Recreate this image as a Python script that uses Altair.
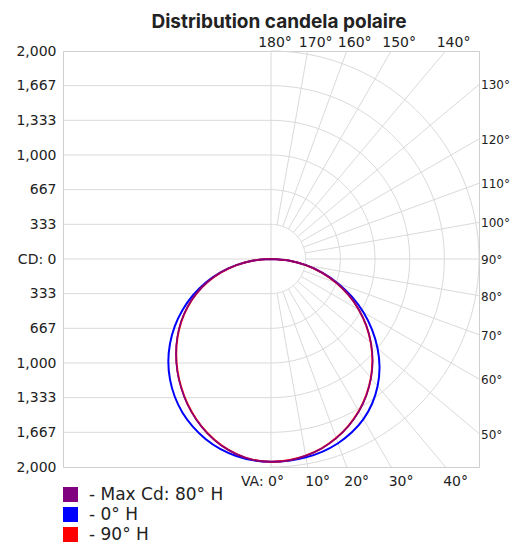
import altair as alt
import pandas as pd
import numpy as np

title_text = "Distribution candela polaire"

# vertical angles (deg from nadir) at which candela values were read
angles = [0, 5, 10, 15, 20, 25, 30, 35, 40, 45, 50, 55, 60, 65, 70, 75, 80, 85, 90]

series_names = ["- Max Cd: 80° H", "- 0° H", "- 90° H"]
series_colors = ["#800080", "#0000ff", "#ff0000"]

# candela values, right half / left half of each plane
max80_right = [1950, 1944, 1921, 1886, 1834, 1770, 1692, 1600, 1496, 1382, 1255, 1120, 977, 826, 668, 506, 340, 170, 0]
max80_left = [1950, 1940, 1906, 1855, 1786, 1703, 1610, 1508, 1403, 1292, 1177, 1057, 930, 795, 651, 498, 337, 170, 0]
h0_right = [1950, 1947, 1936, 1917, 1885, 1839, 1778, 1696, 1595, 1476, 1338, 1187, 1026, 858, 686, 514, 342, 170, 0]
h0_left = [1950, 1943, 1923, 1890, 1841, 1779, 1704, 1614, 1511, 1396, 1268, 1130, 984, 830, 670, 507, 339, 170, 0]
h90_right = [1950, 1943, 1920, 1884, 1832, 1767, 1689, 1597, 1494, 1379, 1253, 1118, 975, 824, 667, 505, 339, 170, 0]
h90_left = [1950, 1939, 1905, 1853, 1783, 1700, 1607, 1505, 1400, 1289, 1174, 1054, 927, 793, 649, 497, 336, 170, 0]

top_labels = [180, 170, 160, 150, 140]
right_labels = [130, 120, 110, 100, 90, 80, 70, 60, 50]
bottom_labels = [10, 20, 30, 40]
bottom_first = [0]

CD_MAX = 2000
N_STEPS = 6
cd_step = CD_MAX / N_STEPS
cd_ticks = [cd_step * k for k in range(-N_STEPS, N_STEPS + 1)]

FONT = "DejaVu Sans"
TXT = "#222222"
GRID = "#dadada"

# ---------- data tables ----------
rows = []
for name, right, left in [
    (series_names[0], max80_right, max80_left),
    (series_names[1], h0_right, h0_left),
    (series_names[2], h90_right, h90_left),
]:
    for a, v in zip(angles, right):
        rows.append({"series": name, "angle": a, "side": 1, "cd": v, "ord": a})
    for a, v in zip(angles, left):
        if a == 0:
            continue
        rows.append({"series": name, "angle": a, "side": -1, "cd": v, "ord": -a})
curves = pd.DataFrame(rows)

# polar grid: rings on the right half
ring_rows = []
for k in range(1, N_STEPS + 1):
    r = cd_step * k
    for a in range(0, 181, 2):
        ring_rows.append({"r": r, "a": a,
                          "x": r * np.sin(np.radians(a)),
                          "y": -r * np.cos(np.radians(a))})
rings = pd.DataFrame(ring_rows)

# rays every 10 deg, from first ring to the frame
ray_rows = []
for a in range(10, 180, 10):
    s, c = np.sin(np.radians(a)), np.cos(np.radians(a))
    r_end = CD_MAX / max(abs(s), abs(c))
    for r in (cd_step, r_end):
        ray_rows.append({"a": a, "r": r, "x": r * s, "y": -r * c})
rays = pd.DataFrame(ray_rows)

vline = pd.DataFrame({"x": [0, 0], "y": [-CD_MAX, CD_MAX]})
hgrid = pd.DataFrame({"y": cd_ticks[1:-1], "x": [-CD_MAX] * (len(cd_ticks) - 2), "x2": [0] * (len(cd_ticks) - 2)})

# ---------- encodings ----------
xs = alt.Scale(domain=[-CD_MAX, CD_MAX], nice=False, zero=False)
ys = alt.Scale(domain=[-CD_MAX, CD_MAX], nice=False, zero=False)
yaxis = alt.Axis(
    values=cd_ticks, title=None, grid=False, ticks=False, domain=False,
    labelExpr="datum.value == 0 ? 'CD: 0' : format(abs(datum.value), ',.0f')",
    labelFont=FONT, labelFontSize=14, labelColor=TXT, labelPadding=7,
)


def X(f):
    return alt.X(f, type="quantitative", scale=xs, axis=None)


def Y(f):
    return alt.Y(f, type="quantitative", scale=ys, axis=yaxis)


color_scale = alt.Scale(domain=series_names, range=series_colors)

hgrid_layer = alt.Chart(hgrid).mark_rule(color=GRID, strokeWidth=1).encode(
    x=X("x"), x2="x2", y=Y("y"))
vline_layer = alt.Chart(vline).mark_line(color=GRID, strokeWidth=1).encode(
    x=X("x"), y=Y("y"))
ring_layer = alt.Chart(rings).mark_line(color=GRID, strokeWidth=1).encode(
    x=X("x"), y=Y("y"), detail="r:Q", order="a:Q")
ray_layer = alt.Chart(rays).mark_line(color=GRID, strokeWidth=1).encode(
    x=X("x"), y=Y("y"), detail="a:Q", order="r:Q")

calc = dict(
    x="datum.side * datum.cd * sin(datum.angle * PI / 180)",
    y="-datum.cd * cos(datum.angle * PI / 180)",
)


def curve(i, width):
    return alt.Chart(curves).transform_filter(
        alt.datum.series == series_names[i]
    ).transform_calculate(**calc).mark_line(
        strokeWidth=width, color=series_colors[i], interpolate="catmull-rom"
    ).encode(x=X("x"), y=Y("y"), order="ord:Q")


legend_layer = alt.Chart(curves).transform_filter(
    (alt.datum.angle == 0) & (alt.datum.side == 1)
).transform_calculate(**calc).mark_point(shape="square", filled=True, size=0, opacity=1).encode(
    x=X("x"), y=Y("y"),
    color=alt.Color("series:N", scale=color_scale, legend=alt.Legend(
        title=None, orient="none", legendX=-1, legendY=435, direction="vertical",
        symbolType="square", symbolSize=225, symbolStrokeWidth=0, symbolOpacity=1,
        labelFont=FONT, labelFontSize=17, labelColor=TXT, labelOffset=10,
        rowPadding=2, padding=0,
    )),
)


def label_df(vals):
    return pd.DataFrame({"a": vals})


txt = dict(font=FONT, fontSize=14, color=TXT)

top_layer = alt.Chart(label_df(top_labels[1:])).transform_calculate(
    x=f"{CD_MAX} * tan((180 - datum.a) * PI / 180)", y=f"{CD_MAX}",
    t="datum.a + '°'",
).mark_text(align="center", baseline="alphabetic", dx=8, dy=-4, **txt).encode(
    x=X("x"), y=Y("y"), text="t:N")
top0_layer = alt.Chart(label_df(top_labels[:1])).transform_calculate(
    x=f"{CD_MAX} * tan((180 - datum.a) * PI / 180)", y=f"{CD_MAX}",
    t="datum.a + '°'",
).mark_text(align="center", baseline="alphabetic", dx=4, dy=-4, **txt).encode(
    x=X("x"), y=Y("y"), text="t:N")
right_layer = alt.Chart(label_df(right_labels)).transform_calculate(
    x=f"{CD_MAX}", y=f"-{CD_MAX} * cos(datum.a * PI / 180) / sin(datum.a * PI / 180)",
    t="datum.a + '°'",
).mark_text(align="left", baseline="middle", dx=2, dy=1, font=FONT, fontSize=12, color=TXT).encode(
    x=X("x"), y=Y("y"), text="t:N")
bottom_layer = alt.Chart(label_df(bottom_labels)).transform_calculate(
    x=f"{CD_MAX} * tan(datum.a * PI / 180)", y=f"-{CD_MAX}",
    t="datum.a + '°'",
).mark_text(align="center", baseline="alphabetic", dx=10, dy=19, **txt).encode(
    x=X("x"), y=Y("y"), text="t:N")
bottom0_layer = alt.Chart(label_df(bottom_first)).transform_calculate(
    x=f"{CD_MAX} * tan(datum.a * PI / 180)", y=f"-{CD_MAX}",
    t="'VA: ' + datum.a + '°'",
).mark_text(align="right", baseline="alphabetic", dx=13, dy=19, **txt).encode(
    x=X("x"), y=Y("y"), text="t:N")

chart = alt.layer(
    hgrid_layer, vline_layer, ring_layer, ray_layer,
    curve(1, 2), curve(2, 2), curve(0, 1.5),
    legend_layer,
    top_layer, top0_layer, right_layer, bottom_layer, bottom0_layer,
).properties(
    width=416, height=416,
    title=alt.Title(title_text, font="Inter", fontSize=19, fontWeight="bold",
                    color=TXT, anchor="middle", dx=8, offset=4),
    padding={"left": 55, "top": 43, "right": 32, "bottom": 77},
    autosize=alt.AutoSizeParams(type="none"),
).configure_view(stroke="#cfcfcf", strokeWidth=1)

chart.save("out.html", embed_options={"renderer": "svg", "actions": False})
